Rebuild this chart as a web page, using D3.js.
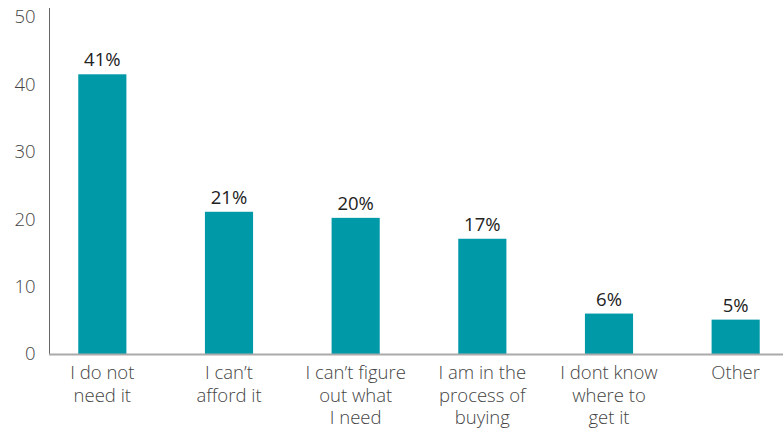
<!DOCTYPE html>
<html>
<head>
<meta charset="utf-8">
<script src="https://cdn.jsdelivr.net/npm/d3@7"></script>
<style>
  body { margin: 0; background: #fff; }
  text { font-family: "Open Sans", sans-serif; }
</style>
</head>
<body>
<div id="chart"></div>
<script>
// chart data
var categories = [
  ["I do not", "need it"],
  ["I can\u2019t", "afford it"],
  ["I can\u2019t figure", "out what", "I need"],
  ["I am in the", "process of", "buying"],
  ["I dont know", "where to", "get it"],
  ["Other"]
];
var values = [41.5, 21.1, 20.2, 17.1, 6.0, 5.1];
var valueLabels = ["41%", "21%", "20%", "17%", "6%", "5%"];
var yTicks = [0, 10, 20, 30, 40, 50];

var svgWidth = 783;
var svgHeight = 432;

var svg = d3.select("#chart")
  .append("svg")
  .attr("width", svgWidth)
  .attr("height", svgHeight);

var xScale = d3.scaleBand()
  .domain(d3.range(values.length))
  .range([39, 799])
  .paddingInner(0.62)
  .paddingOuter(0.31);

var yScale = d3.scaleLinear()
  .domain([0, 50])
  .range([354, 17]);

// y axis (labels only + line)
var leftAxis = d3.axisLeft(yScale)
  .tickValues(yTicks)
  .tickSize(0)
  .tickPadding(14);

var yAxisG = svg.append("g")
  .attr("transform", "translate(49.5,0)")
  .call(leftAxis);
yAxisG.select(".domain").remove();
yAxisG.selectAll("text")
  .attr("fill", "#444")
  .style("font-size", "18.5px")
  .style("font-weight", 300);

svg.append("line")
  .attr("x1", 49.5).attr("x2", 49.5)
  .attr("y1", 8).attr("y2", yScale(0))
  .attr("stroke", "#666")
  .attr("stroke-width", 1);

// bars
svg.selectAll("rect.bar")
  .data(values)
  .enter()
  .append("rect")
  .attr("class", "bar")
  .attr("x", (d, i) => xScale(i))
  .attr("y", d => yScale(d))
  .attr("width", xScale.bandwidth())
  .attr("height", d => yScale(0) - yScale(d))
  .attr("fill", "#0099a8");

// baseline
svg.append("line")
  .attr("x1", 49).attr("x2", svgWidth)
  .attr("y1", yScale(0) + 0.5).attr("y2", yScale(0) + 0.5)
  .attr("stroke", "#aaa")
  .attr("stroke-width", 2);

// value labels
svg.selectAll("text.val")
  .data(values)
  .enter()
  .append("text")
  .attr("class", "val")
  .attr("x", (d, i) => xScale(i) + xScale.bandwidth() / 2)
  .attr("y", d => yScale(d) - 8)
  .attr("text-anchor", "middle")
  .attr("fill", "#222")
  .style("font-size", "18.5px")
  .text((d, i) => valueLabels[i]);

// category labels
var catG = svg.selectAll("text.cat")
  .data(categories)
  .enter()
  .append("text")
  .attr("class", "cat")
  .attr("text-anchor", "middle")
  .attr("fill", "#444")
  .style("font-size", "18.5px")
  .style("font-weight", 300);

catG.selectAll("tspan")
  .data((d, i) => d.map(line => ({ line: line, i: i })))
  .enter()
  .append("tspan")
  .attr("x", d => xScale(d.i) + xScale.bandwidth() / 2)
  .attr("y", (d, j) => 379 + j * 22.5)
  .text(d => d.line);
</script>
</body>
</html>
